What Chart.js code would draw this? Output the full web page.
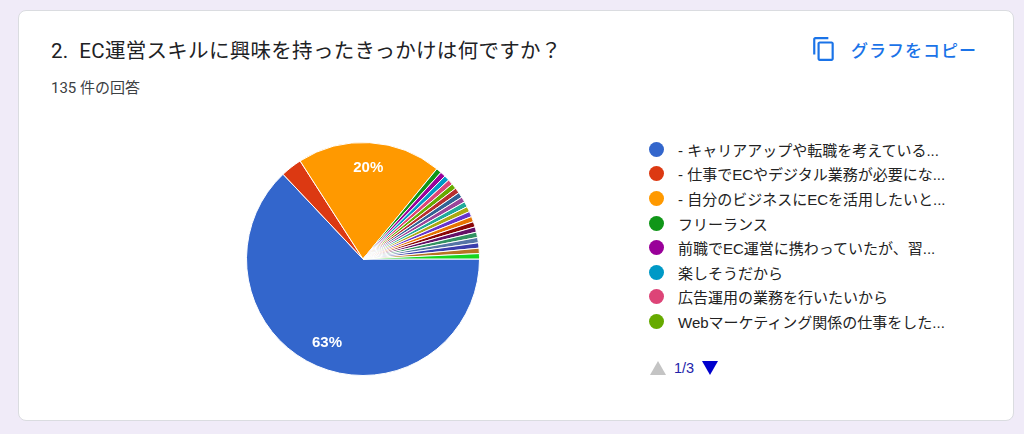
<!DOCTYPE html>
<html lang="ja">
<head>
<meta charset="utf-8">
<title>EC運営スキルに興味を持ったきっかけ</title>
<script src="https://cdn.jsdelivr.net/npm/chart.js@4/dist/chart.umd.min.js"></script>
<style>
  html, body { margin: 0; padding: 0; }
  body {
    width: 1024px; height: 434px; overflow: hidden;
    background: #f0ebf8;
    font-family: Roboto, "Noto Sans CJK JP", sans-serif;
    color: #202124;
  }
  .card {
    position: absolute; left: 18px; top: 10px;
    width: 994px; height: 409px;
    background: #fff; border: 1px solid #dadce0; border-radius: 8px;
  }
  .title {
    position: absolute; left: 32px; top: 26px;
    font-size: 20.5px; line-height: 28px; white-space: pre; letter-spacing: 0.3px;
  }
  .sub {
    position: absolute; left: 32px; top: 67px;
    font-size: 15px; line-height: 20px; color: #3c4043;
  }
  .copy {
    position: absolute; left: 792px; top: 25px;
    display: flex; align-items: center;
    color: #1a73e8; font-size: 17px; font-weight: 500; letter-spacing: 1px;
  }
  .copy svg { width: 26px; height: 26px; margin-right: 14px; fill: #1a73e8; }
  #pieWrap { position: absolute; left: 227px; top: 131px; width: 234px; height: 234px; }
  #legend { position: absolute; left: 630px; top: 126px; margin: 0; padding: 0; list-style: none; }
  #legend li {
    display: flex; align-items: center; height: 24.6px;
    font-family: "Liberation Sans", Arial, "Noto Sans CJK JP", sans-serif;
    font-size: 15px; color: #222; white-space: nowrap;
  }
  #legend .dot { width: 15px; height: 15px; border-radius: 50%; margin-right: 14px; flex: none; }
  .pager {
    position: absolute; left: 631px; top: 349px;
    display: flex; align-items: center; font-size: 14.5px; color: #2222aa;
    font-family: "Liberation Sans", Arial, sans-serif;
  }
  .tri-up { width: 0; height: 0; border-left: 8px solid transparent; border-right: 8px solid transparent; border-bottom: 14px solid #c4c4c4; margin-right: 8px; }
  .tri-down { width: 0; height: 0; border-left: 8px solid transparent; border-right: 8px solid transparent; border-top: 14px solid #0000cc; margin-left: 8px; }
</style>
</head>
<body>
<div class="card">
  <div class="title">2.  EC運営スキルに興味を持ったきっかけは何ですか？</div>
  <div class="sub">135 件の回答</div>
  <div class="copy">
    <svg viewBox="0 0 24 24"><path d="M16 1H4c-1.1 0-2 .9-2 2v14h2V3h12V1zm3 4H8c-1.1 0-2 .9-2 2v14c0 1.1.9 2 2 2h11c1.1 0 2-.9 2-2V7c0-1.1-.9-2-2-2zm0 16H8V7h11v14z"/></svg>
    グラフをコピー
  </div>
  <div id="pieWrap"><canvas id="pie"></canvas></div>
  <ul id="legend"></ul>
  <div class="pager"><span class="tri-up"></span><span>1/3</span><span class="tri-down"></span></div>
</div>

<script>
// answers (only the first 8 are visible on legend page 1/3)
const answers = [
  '- キャリアアップや転職を考えているから',
  '- 仕事でECやデジタル業務が必要になったから',
  '- 自分のビジネスにECを活用したいと考えたから',
  'フリーランス',
  '前職でEC運営に携わっていたが、習得しきれなかったから',
  '楽しそうだから',
  '広告運用の業務を行いたいから',
  'Webマーケティング関係の仕事をしたいから',
  'その他の回答 9', 'その他の回答 10', 'その他の回答 11', 'その他の回答 12',
  'その他の回答 13', 'その他の回答 14', 'その他の回答 15', 'その他の回答 16',
  'その他の回答 17', 'その他の回答 18', 'その他の回答 19', 'その他の回答 20',
  'その他の回答 21', 'その他の回答 22'
];

// number of responses per answer (total 135)
const counts = [85, 4, 27, 1, 1, 1, 1, 1, 1, 1, 1, 1, 1, 1, 1, 1, 1, 1, 1, 1, 1, 1];

const colors = [
  '#3366cc', '#dc3912', '#ff9900', '#109618', '#990099', '#0099c6',
  '#dd4477', '#66aa00', '#b82e2e', '#316395', '#994499', '#22aa99',
  '#aaaa11', '#6633cc', '#e67300', '#8b0707', '#651067', '#329262',
  '#5574a6', '#3b3eac', '#b77322', '#16d620'
];

const legendPageSize = 8;

// percentage labels inside the big slices
const pctLabels = {
  id: 'pctLabels',
  afterDatasetsDraw(chart) {
    const ctx = chart.ctx;
    const meta = chart.getDatasetMeta(0);
    const total = counts.reduce((a, b) => a + b, 0);
    ctx.save();
    ctx.fillStyle = '#ffffff';
    ctx.font = 'bold 15px "Liberation Sans", Arial, sans-serif';
    ctx.textAlign = 'center';
    ctx.textBaseline = 'middle';
    meta.data.forEach((arc, i) => {
      const pct = counts[i] / total * 100;
      if (pct < 5) return;
      const p = arc.getProps(['x', 'y', 'startAngle', 'endAngle', 'outerRadius'], true);
      const mid = (p.startAngle + p.endAngle) / 2;
      const r = p.outerRadius * 0.78;
      ctx.fillText(Math.round(pct) + '%', p.x + Math.cos(mid) * r, p.y + Math.sin(mid) * r);
    });
    ctx.restore();
  }
};

new Chart(document.getElementById('pie'), {
  type: 'pie',
  data: {
    labels: answers,
    datasets: [{
      data: counts,
      backgroundColor: colors,
      borderColor: '#ffffff',
      borderWidth: 1,
      hoverOffset: 0
    }]
  },
  options: {
    responsive: true,
    maintainAspectRatio: false,
    animation: false,
    rotation: 90,
    layout: { padding: 0 },
    plugins: {
      legend: { display: false },
      tooltip: { enabled: true }
    }
  },
  plugins: [pctLabels]
});

// legend page 1, long answers shortened with "..." like the original
const measure = document.createElement('canvas').getContext('2d');
measure.font = '15px "Liberation Sans", Arial, "Noto Sans CJK JP", sans-serif';
function shorten(text, maxW) {
  if (measure.measureText(text).width <= maxW) return text;
  let s = text;
  while (s.length > 1 && measure.measureText(s + '...').width > maxW) s = s.slice(0, -1);
  return s + '...';
}
const legendEl = document.getElementById('legend');
answers.slice(0, legendPageSize).forEach((label, i) => {
  const li = document.createElement('li');
  li.innerHTML = '<span class="dot" style="background:' + colors[i] + '"></span><span class="txt"></span>';
  li.querySelector('.txt').textContent = shorten(label, 272);
  legendEl.appendChild(li);
});
</script>
</body>
</html>
